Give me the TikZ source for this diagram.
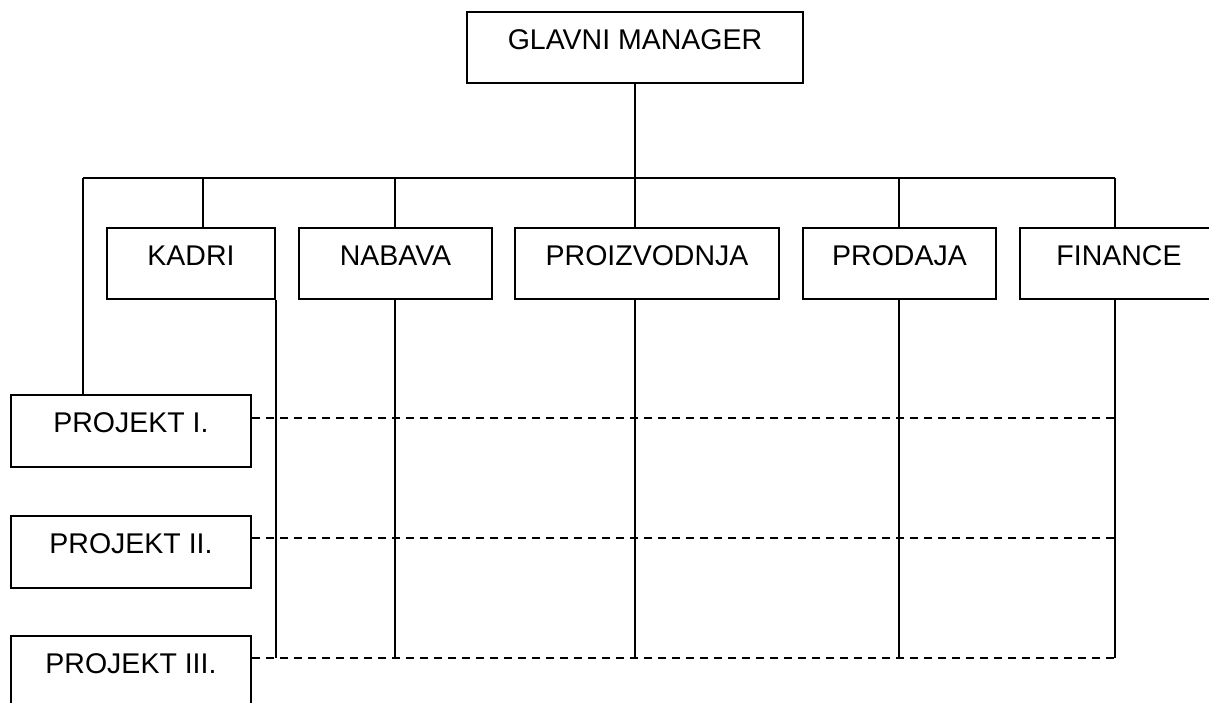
\documentclass[tikz,border=0pt]{standalone}
\usepackage{fontspec}
\setmainfont{Liberation Sans}
\begin{document}
\begin{tikzpicture}[x=1pt,y=-1pt,
  wire/.style={line width=2pt},
  link/.style={line width=2pt, dash pattern=on 8pt off 6pt},
  unit/.style={draw, line width=2pt, rectangle, anchor=north,
    inner xsep=0pt, inner ysep=17pt, text height=20.5pt, text depth=#1,
    font=\fontsize{28.5}{34}\selectfont},
  unit/.default=16.5pt,
]
\useasboundingbox (0,0) rectangle (1209,702);
\clip (0,0) rectangle (1209,702);

% top of the hierarchy
\node[unit, minimum width=336pt] (gm) at (635,11) {GLAVNI MANAGER};

% departments
\node[unit, minimum width=168pt] (kadri)  at (191,227)   {KADRI};
\node[unit, minimum width=193pt] (nabava) at (395.5,227) {NABAVA};
\node[unit, minimum width=264pt] (proiz)  at (647,227)   {PROIZVODNJA};
\node[unit, minimum width=193pt] (prodaja) at (899.5,227) {PRODAJA};
\node[unit, minimum width=198pt] (fin)    at (1119,227)  {FINANCE};

% projects
\node[unit=17.5pt, minimum width=240pt] (p1) at (131,394) {PROJEKT I.};
\node[unit=17.5pt, minimum width=240pt] (p2) at (131,515) {PROJEKT II.};
\node[unit=17.5pt, minimum width=240pt] (p3) at (131,635) {PROJEKT III.};

% bus and branch points
\coordinate (busL) at (83,178);
\coordinate (busR) at (1115,178);
\coordinate (bK) at (203,178);
\coordinate (bN) at (395,178);
\coordinate (bP) at (635,178);
\coordinate (bS) at (899,178);
\coordinate (bF) at (1115,178);

% rows of the project matrix
\coordinate (r1) at (1115,418);
\coordinate (r2) at (1115,538);
\coordinate (r3) at (1115,658);

% solid hierarchy lines
\draw[wire] (gm.south) -- (gm.south |- busL);
\draw[wire] (busL) -- (busR);
\draw[wire] (bK) -- (bK |- kadri.north);
\draw[wire] (bN) -- (bN |- nabava.north);
\draw[wire] (bP) -- (bP |- proiz.north);
\draw[wire] (bS) -- (bS |- prodaja.north);
\draw[wire] (bF) -- (bF |- fin.north);
\draw[wire] (busL) -- (busL |- p1.north);

% department columns
\draw[wire] (kadri.south east) -- (kadri.south east |- r3);
\draw[wire] (bN |- nabava.south) -- (bN |- r3);
\draw[wire] (bP |- proiz.south) -- (bP |- r3);
\draw[wire] (bS |- prodaja.south) -- (bS |- r3);
\draw[wire] (bF |- fin.south) -- (r3);

% project rows
\draw[link] (p1.east |- r1) -- (r1);
\draw[link] (p2.east |- r2) -- (r2);
\draw[link] (p3.east |- r3) -- (r3);
\end{tikzpicture}
\end{document}
